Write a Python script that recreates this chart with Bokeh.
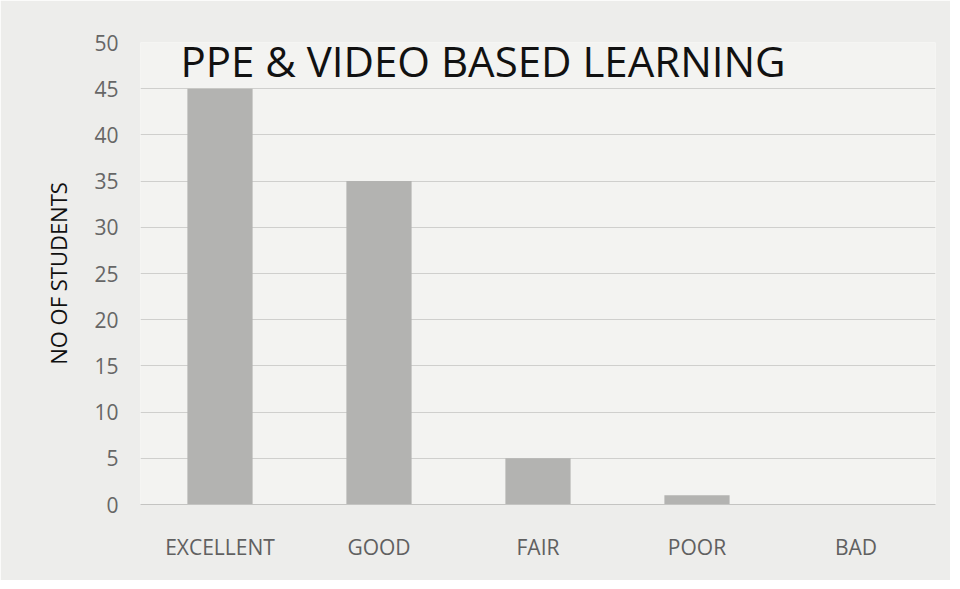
from bokeh.plotting import figure
from bokeh.models import Label, ColumnDataSource, FixedTicker
from bokeh.embed import file_html
from bokeh.resources import INLINE

categories = ["EXCELLENT", "GOOD", "FAIR", "POOR", "BAD"]
students = [45, 35, 5, 1, 0]
y_ticks = [0, 5, 10, 15, 20, 25, 30, 35, 40, 45, 50]

src = ColumnDataSource(dict(cat=categories, val=students))

p = figure(x_range=categories, y_range=(0, 50), width=950, height=580,
           output_backend="svg", toolbar_location=None,
           min_border_left=140, min_border_right=15, min_border_top=42, min_border_bottom=76)
p.background_fill_color = "#f3f3f1"
p.border_fill_color = "#ededeb"
p.outline_line_color = None

p.vbar(x="cat", top="val", width=0.41, source=src, fill_color="#b3b3b1", line_color=None)

p.yaxis.ticker = FixedTicker(ticks=y_ticks)
p.ygrid.grid_line_color = "#cfcfcd"
p.xgrid.grid_line_color = None
p.yaxis.axis_line_color = None
p.yaxis.major_tick_line_color = None
p.yaxis.minor_tick_line_color = None
p.xaxis.axis_line_color = "#c4c4c2"
p.xaxis.major_tick_line_color = None
p.yaxis.major_label_text_font = "Open Sans"
p.yaxis.major_label_text_font_size = "21px"
p.yaxis.major_label_text_color = "#666666"
p.yaxis.major_label_standoff = 16
p.xaxis.major_label_text_font = "Open Sans"
p.xaxis.major_label_text_font_size = "21px"
p.xaxis.major_label_text_color = "#606060"
p.xaxis.major_label_standoff = 22
p.yaxis.axis_label = "NO OF STUDENTS"
p.yaxis.axis_label_text_font = "Open Sans"
p.yaxis.axis_label_text_font_style = "normal"
p.yaxis.axis_label_text_font_size = "22px"
p.yaxis.axis_label_text_color = "#111111"
p.yaxis.axis_label_standoff = 18

p.add_layout(Label(x=40, y=444, x_units="screen", y_units="screen",
                   text="PPE & VIDEO BASED LEARNING", text_font="Open Sans",
                   text_font_size="42px", text_color="#111111",
                   text_baseline="alphabetic"))

open("out.html", "w").write(file_html(p, INLINE))
